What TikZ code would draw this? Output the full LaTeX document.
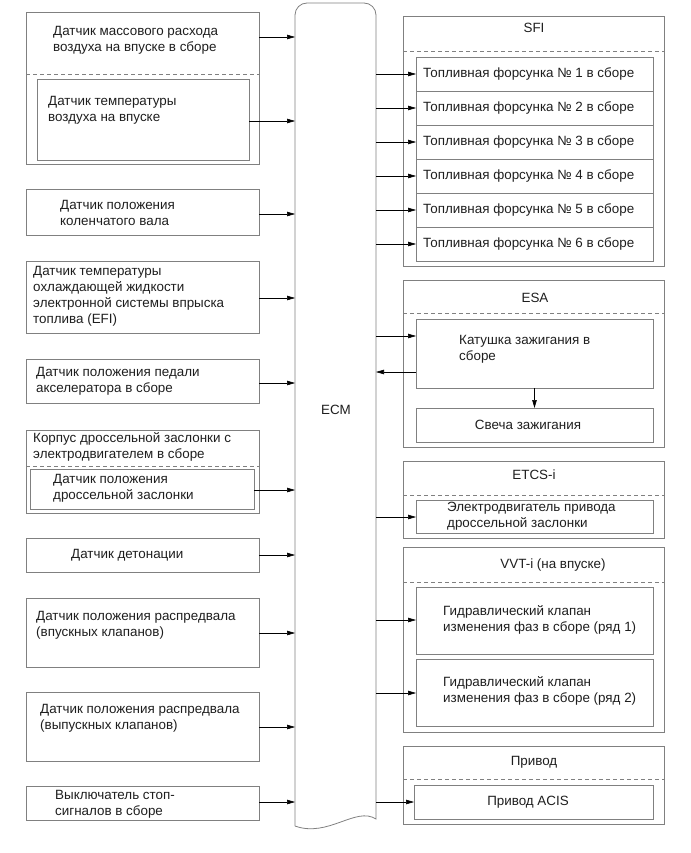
\documentclass[tikz,border=0pt]{standalone}
\usepackage{fontspec}
\setmainfont{Liberation Sans}
\usetikzlibrary{arrows.meta, positioning, calc}
\definecolor{boxgray}{HTML}{808080}
\definecolor{txtgray}{HTML}{1E1E1E}
\tikzset{%
   % outline of every block, placed by its top left corner
   box/.style={
      draw=boxgray,
      line width=.8pt,
      anchor=north west,
      inner sep=0pt,
      outer sep=0pt
   },
   lbox/.style={box, minimum width=233pt},
   rbox/.style={box, minimum width=261pt},
   ibox/.style={box, minimum width=237pt},
   txt/.style={
      anchor=west,
      align=left,
      inner sep=0pt,
      text=txtgray,
      font=\fontsize{13.4}{16}\selectfont
   },
   ttl/.style={txt, anchor=center, align=center},
   sep/.style={draw=boxgray, line width=.8pt, dash pattern=on 4pt off 3pt},
   arr/.style={draw=black, line width=.6pt, -{Triangle[length=8pt, width=4.5pt]}},
}

\begin{document}
\begin{tikzpicture}[x=1pt, y=-1pt]
    \useasboundingbox (0,0) rectangle (690,853);
    % ECM
    \node[inner sep=0pt, outer sep=0pt, anchor=north west,
          minimum width=81pt, minimum height=823pt] (ecm) at (295,3) {};
    \draw[draw=boxgray, line width=.8pt] (ecm.south west) [rounded corners=12pt]
        -- (ecm.north west) -- (ecm.north east) [sharp corners]
        -- ([yshift=7pt]ecm.south east)
        .. controls (356,806) and (328,838) .. (ecm.south west);
    \node[txt, anchor=center] (ecmt) at (336,410) {ECM};

    % left side: sensors
    \node[lbox, minimum height=152pt] (maf) at (26,12) {};
    \node[txt] (maft) at (53,40) {Датчик массового расхода\\воздуха на впуске в сборе};
    \draw[sep] (maf.west |- 0,74) -- (maf.east |- 0,74);
    \node[box, minimum width=212pt, minimum height=81pt] (iat) at (37,79) {};
    \node[txt] (iatt) at (48,110) {Датчик температуры\\воздуха на впуске};

    \node[lbox, minimum height=46pt] (ckp) at (26,189) {};
    \node[txt] (ckpt) at (60,213) {Датчик положения\\коленчатого вала};

    \node[lbox, minimum height=72pt] (ect) at (26,261) {};
    \node[txt] (ectt) at (33,296) {Датчик температуры\\охлаждающей жидкости\\электронной системы впрыска\\топлива (EFI)};

    \node[lbox, minimum height=44pt] (app) at (26,359) {};
    \node[txt] (appt) at (36,381) {Датчик положения педали\\акселератора в сборе};

    \node[lbox, minimum height=83pt] (thr) at (26,430) {};
    \node[txt] (thrt) at (33,447) {Корпус дроссельной заслонки с\\электродвигателем в сборе};
    \draw[sep] (thr.west |- 0,466) -- (thr.east |- 0,466);
    \node[box, minimum width=224pt, minimum height=40pt] (tps) at (30,469) {};
    \node[txt] (tpst) at (53,488) {Датчик положения\\дроссельной заслонки};

    \node[lbox, minimum height=34pt] (ks) at (26,538) {};
    \node[txt] (kst) at (71,555) {Датчик детонации};

    \node[lbox, minimum height=69pt] (cmpi) at (26,598) {};
    \node[txt] (cmpit) at (36,625) {Датчик положения распредвала\\(впускных клапанов)};

    \node[lbox, minimum height=69pt] (cmpe) at (26,692) {};
    \node[txt] (cmpet) at (40,718) {Датчик положения распредвала\\(выпускных клапанов)};

    \node[lbox, minimum height=34pt] (stp) at (26,786) {};
    \node[txt] (stpt) at (55,804) {Выключатель стоп-\\сигналов в сборе};

    \draw[arr] (maf.east |- 0,37) -- (ecm.west |- 0,37);
    \draw[arr] (iat.east |- 0,121) -- (ecm.west |- 0,121);
    \draw[arr] (ckp.east |- 0,214) -- (ecm.west |- 0,214);
    \draw[arr] (ect.east |- 0,298) -- (ecm.west |- 0,298);
    \draw[arr] (app.east |- 0,383) -- (ecm.west |- 0,383);
    \draw[arr] (tps.east |- 0,490) -- (ecm.west |- 0,490);
    \draw[arr] (ks.east |- 0,555) -- (ecm.west |- 0,555);
    \draw[arr] (cmpi.east |- 0,633) -- (ecm.west |- 0,633);
    \draw[arr] (cmpe.east |- 0,727) -- (ecm.west |- 0,727);
    \draw[arr] (stp.east |- 0,802) -- (ecm.west |- 0,802);

    % right side: SFI
    \node[rbox, minimum height=250pt] (sfi) at (403,16) {};
    \node[ttl] (sfit) at (534,28) {SFI};
    \draw[sep] (sfi.west |- 0,51) -- (sfi.east |- 0,51);
    \foreach \i in {1,...,6} {
      \node[ibox, minimum height=34pt] (inj\i) at (416,{57+34*(\i-1)}) {};
      \node[txt] (inj\i t) at ($(inj\i.west)+(7,0)$) {Топливная форсунка № \i\ в сборе};
      \draw[arr] (ecm.east |- inj\i.west) -- (inj\i.west);
    }

    % ESA
    \node[rbox, minimum height=167pt] (esa) at (403,280) {};
    \node[ttl] (esat) at (535,298) {ESA};
    \draw[sep] (esa.west |- 0,313) -- (esa.east |- 0,313);
    \node[ibox, minimum height=69pt] (coil) at (416,319) {};
    \node[txt] (coilt) at (459,349) {Катушка зажигания в\\сборе};
    \node[ibox, minimum height=34pt] (plug) at (416,408) {};
    \node[ttl] (plugt) at (528,425) {Свеча зажигания};
    \draw[arr] (ecm.east |- 0,336) -- (coil.west |- 0,336);
    \draw[arr] (coil.west |- 0,372) -- (ecm.east |- 0,372);
    \draw[arr] (coil.south) -- (plug.north);

    % ETCS-i
    \node[rbox, minimum height=77pt] (etcs) at (403,461) {};
    \node[ttl] (etcst) at (534,475) {ETCS-i};
    \draw[sep] (etcs.west |- 0,495) -- (etcs.east |- 0,495);
    \node[ibox, minimum height=33pt] (mot) at (416,500) {};
    \node[txt] (mott) at (447,516) {Электродвигатель привода\\дроссельной заслонки};
    \draw[arr] (ecm.east |- 0,517) -- (mot.west |- 0,517);

    % VVT-i
    \node[rbox, minimum height=185pt] (vvt) at (403,547) {};
    \node[ttl] (vvtt) at (553,565) {VVT-i (на впуске)};
    \draw[sep] (vvt.west |- 0,582) -- (vvt.east |- 0,582);
    \node[ibox, minimum height=67pt] (ocv1) at (416,587) {};
    \node[txt] (ocv1t) at (443,620) {Гидравлический клапан\\изменения фаз в сборе (ряд 1)};
    \node[ibox, minimum height=67pt] (ocv2) at (416,659) {};
    \node[txt] (ocv2t) at (443,691) {Гидравлический клапан\\изменения фаз в сборе (ряд 2)};
    \draw[arr] (ecm.east |- 0,620) -- (ocv1.west |- 0,620);
    \draw[arr] (ecm.east |- 0,693) -- (ocv2.west |- 0,693);

    % Привод
    \node[rbox, minimum height=78pt] (drv) at (403,746) {};
    \node[ttl] (drvt) at (534,762) {Привод};
    \draw[sep] (drv.west |- 0,779) -- (drv.east |- 0,779);
    \node[box, minimum width=239pt, minimum height=34pt] (acis) at (414,785) {};
    \node[ttl] (acist) at (528,802) {Привод ACIS};
    \draw[arr] (ecm.east |- acis.west) -- (acis.west);
\end{tikzpicture}
\end{document}
